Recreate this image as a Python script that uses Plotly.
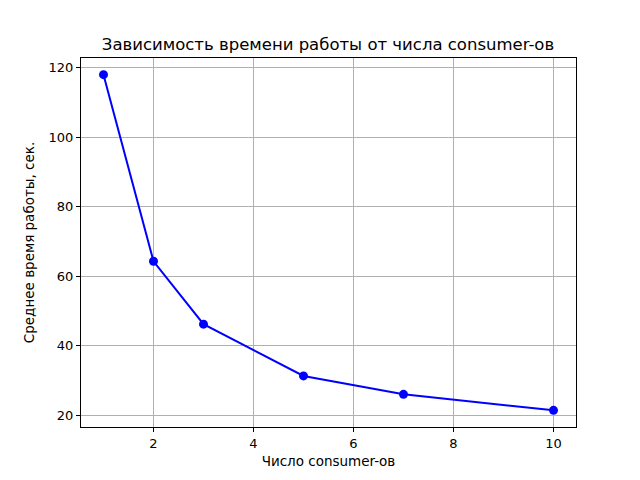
import plotly.graph_objects as go

consumers = [1, 2, 3, 5, 7, 10]
avg_time = [118.0, 64.3, 46.2, 31.3, 26.0, 21.4]

fig = go.Figure()
fig.add_trace(go.Scatter(
    x=consumers, y=avg_time, mode="lines+markers",
    line=dict(color="#0000ff", width=2),
    marker=dict(color="#0000ff", size=9),
    showlegend=False,
))

axis_common = dict(
    showgrid=True, gridcolor="#b0b0b0", gridwidth=0.8,
    showline=True, linecolor="black", linewidth=1, mirror=True,
    ticks="outside", ticklen=4, tickcolor="black",
    zeroline=False, tickfont=dict(size=13, color="black"),
    automargin=False,
)

# page body has an 8px margin; figure sized so the plot area lands where the reference has it
fig.update_layout(
    width=624, height=464,
    paper_bgcolor="white", plot_bgcolor="white",
    font=dict(family="DejaVu Sans", size=13, color="black"),
    margin=dict(l=73, r=56, t=50, b=45),
    title=dict(text="Зависимость времени работы от числа consumer-ов",
               x=(328 - 8) / 624, xanchor="center", y=1 - 36/464, yanchor="middle",
               font=dict(size=16.5)),
    xaxis=dict(range=[0.55, 10.45], tickvals=[2, 4, 6, 8, 10],
               title=dict(text="Число consumer-ов", standoff=6, font=dict(size=13.5)),
               **axis_common),
    yaxis=dict(range=[16.6, 122.8], tickvals=[20, 40, 60, 80, 100, 120],
               title=dict(text="Среднее время работы, сек.", standoff=10, font=dict(size=13.5)),
               **axis_common),
)

fig.write_html("out.html")
